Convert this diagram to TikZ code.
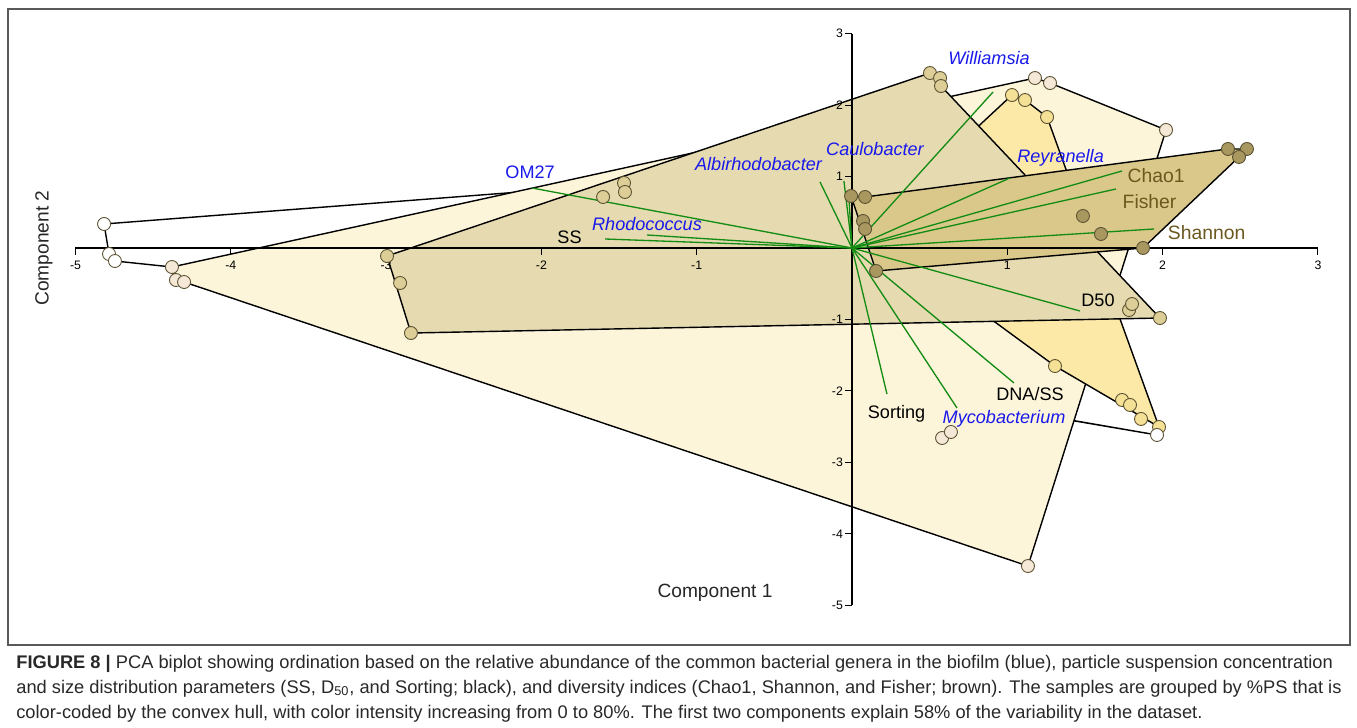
\documentclass[tikz,border=0pt]{standalone}
\usepackage{fontspec}
\setmainfont{Liberation Sans}
\usepackage{xcolor}
\usepackage{tikz}

\definecolor{hullwhite}{RGB}{255,255,255}
\definecolor{hullpale}{RGB}{253,245,218}
\definecolor{hullyellow}{RGB}{252,233,168}
\definecolor{hullbeige}{RGB}{229,218,176}
\definecolor{hullbrown}{RGB}{218,200,138}
\definecolor{ptwhite}{RGB}{255,255,255}
\definecolor{ptpale}{RGB}{245,232,214}
\definecolor{ptyellow}{RGB}{245,225,150}
\definecolor{ptbeige}{RGB}{220,206,150}
\definecolor{ptbrown}{RGB}{168,152,96}
\definecolor{ptedge}{RGB}{90,80,50}
\definecolor{vecgreen}{RGB}{20,140,20}
\definecolor{taxonblue}{RGB}{25,25,235}
\definecolor{divbrown}{RGB}{107,88,30}
\definecolor{captiongray}{RGB}{40,40,40}

\begin{document}
\begin{tikzpicture}
      \tikzstyle{frame_box}=[draw=black!65, line width=0.8pt]
      \tikzstyle{hull}=[draw=black, line width=0.8pt, line join=round]
      \tikzstyle{axis_line}=[draw=black, line width=0.6pt]
      \tikzstyle{sample}=[circle, draw=ptedge, line width=0.5pt, minimum size=2.6mm, inner sep=0pt]
      \tikzstyle{vector}=[draw=vecgreen, line width=0.75pt]
      \tikzstyle{taxon}=[text=taxonblue, font=\fontsize{10.3}{12}\selectfont\itshape, inner sep=0pt]
      \tikzstyle{env_var}=[text=black, font=\fontsize{10.3}{12}\selectfont, inner sep=0pt]
      \tikzstyle{div_index}=[text=divbrown, font=\fontsize{11}{13}\selectfont, inner sep=0pt]
      \tikzstyle{tick_label}=[font=\fontsize{7}{8}\selectfont, inner sep=1pt]
      \tikzstyle{axis_title}=[text=black!85, font=\fontsize{10.9}{13}\selectfont, inner sep=0pt]
      \tikzstyle{caption_line}=[anchor=base west, text=captiongray, font=\fontsize{10.4}{12}\selectfont, inner sep=0pt]

      \useasboundingbox (0,0) rectangle (27.14,-14.56);
      \draw[frame_box] (0.16,-0.18) rectangle (27.0,-12.9);

      \begin{scope}[shift={(17.04,-4.96)}, x=3.106cm, y=1.429cm]
        % convex hulls, 0% first
        \filldraw[hull, fill=hullwhite] (-4.816,0.336) -- (-1.468,0.896) -- (1.275,-2.358) -- (1.964,-2.617)
          -- (-4.379,-0.266) -- (-4.746,-0.182) -- (-4.784,-0.084) -- cycle;
        \filldraw[hull, fill=hullpale] (-4.379,-0.266) -- (1.178,2.379) -- (1.275,2.309) -- (2.022,1.652)
          -- (1.133,-4.451) -- (-4.301,-0.476) -- (-4.353,-0.448) -- cycle;
        \filldraw[hull, fill=hullyellow] (0.103,0.266) -- (1.030,2.141) -- (1.114,2.071) -- (1.256,1.833)
          -- (1.977,-2.505) -- (1.307,-1.652) -- cycle;
        \filldraw[hull, fill=hullbeige] (-2.994,-0.112) -- (0.502,2.449) -- (0.567,2.379) -- (0.573,2.267)
          -- (1.983,-0.980) -- (-2.840,-1.190) -- cycle;
        \filldraw[hull, fill=hullbrown] (-0.006,0.728) -- (0.084,0.714) -- (2.421,1.386) -- (2.543,1.386)
          -- (2.492,1.274) -- (1.874,0.0) -- (0.155,-0.322) -- cycle;

        % axes
        \draw[axis_line] (-5,0) -- (3,0);
        \foreach \x [count=\i] in {-5,-4,-3,-2,-1,1,2,3} {
          \draw[axis_line] (\x,0) -- (\x,-0.1);
          \node[tick_label] (xt\i) at (\x,-0.238) {\x};
        }
        \draw[axis_line] (0,3) -- (0,-5);
        \foreach \y [count=\i] in {3,2,1,-1,-2,-3,-4,-5} {
          \draw[axis_line] (0,\y) -- (-0.045,\y);
          \node[tick_label, anchor=east] (yt\i) at (-0.045,\y) {\y};
        }

        % loadings
        \coordinate (O) at (0,0);
        \coordinate (om27) at (-2.061,0.840);
        \coordinate (ss) at (-1.590,0.126);
        \coordinate (rhodo) at (-1.320,0.182);
        \coordinate (albi) at (-0.206,0.924);
        \coordinate (caulo) at (-0.052,0.938);
        \coordinate (other) at (-0.019,0.672);
        \coordinate (willi) at (0.908,2.183);
        \coordinate (reyra) at (1.017,0.980);
        \coordinate (chao) at (1.739,1.078);
        \coordinate (fisher) at (1.700,0.826);
        \coordinate (shannon) at (1.945,0.266);
        \coordinate (dfifty) at (1.468,-0.882);
        \coordinate (dnass) at (1.043,-1.889);
        \coordinate (myco) at (0.676,-2.239);
        \coordinate (sorting) at (0.225,-2.043);
        \foreach \v in {om27,ss,rhodo,albi,caulo,other,willi,reyra,chao,fisher,shannon,dfifty,dnass,myco,sorting}
          \draw[vector] (O) -- (\v);

        % samples
        \foreach \x/\y [count=\i] in {-4.379/-0.266, -4.353/-0.448, -4.301/-0.476, 1.178/2.379, 1.275/2.309,
            2.022/1.652, 1.133/-4.451, 0.580/-2.659, 0.637/-2.575}
          \node[sample, fill=ptpale] (p\i) at (\x,\y) {};
        \foreach \x/\y [count=\i] in {1.030/2.141, 1.114/2.071, 1.256/1.833, 1.307/-1.652, 1.739/-2.127,
            1.790/-2.197, 1.861/-2.393, 1.977/-2.505}
          \node[sample, fill=ptyellow] (yl\i) at (\x,\y) {};
        \foreach \x/\y [count=\i] in {-2.994/-0.112, -2.910/-0.490, -2.840/-1.190, -1.603/0.714, -1.468/0.910,
            -1.462/0.784, 0.502/2.449, 0.567/2.379, 0.573/2.267, 1.784/-0.868, 1.803/-0.784, 1.983/-0.980}
          \node[sample, fill=ptbeige] (b\i) at (\x,\y) {};
        \foreach \x/\y [count=\i] in {-0.006/0.728, 0.084/0.714, 0.071/0.378, 0.084/0.266, 0.155/-0.322,
            1.487/0.448, 1.603/0.196, 1.874/0.0, 2.421/1.386, 2.543/1.386, 2.492/1.274}
          \node[sample, fill=ptbrown] (br\i) at (\x,\y) {};
        \foreach \x/\y [count=\i] in {-4.816/0.336, -4.784/-0.084, -4.746/-0.182, 1.964/-2.617}
          \node[sample, fill=ptwhite] (w\i) at (\x,\y) {};

        % labels
        \node[taxon, font=\fontsize{10.3}{12}\selectfont] (lab_om27) at (-2.073,1.064) {OM27};
        \node[taxon] (lab_albi) at (-0.602,1.176) {Albirhodobacter};
        \node[taxon] (lab_caulo) at (0.148,1.386) {Caulobacter};
        \node[taxon] (lab_willi) at (0.882,2.659) {Williamsia};
        \node[taxon] (lab_reyra) at (1.343,1.260) {Reyranella};
        \node[taxon] (lab_rhodo) at (-1.320,0.336) {Rhodococcus};
        \node[taxon] (lab_myco) at (0.979,-2.395) {Mycobacterium};
        \node[env_var] (lab_ss) at (-1.819,0.154) {SS};
        \node[env_var] (lab_dfifty) at (1.584,-0.728) {D50};
        \node[env_var] (lab_dnass) at (1.146,-2.043) {DNA/SS};
        \node[env_var] (lab_sorting) at (0.287,-2.325) {Sorting};
        \node[div_index] (lab_chao) at (1.958,1.008) {Chao1};
        \node[div_index] (lab_fisher) at (1.916,0.644) {Fisher};
        \node[div_index] (lab_shannon) at (2.283,0.210) {Shannon};

        \node[axis_title] (comp1) at (-0.882,-4.829) {Component 1};
        \node[axis_title, rotate=90] (comp2) at (-5.203,0) {Component 2};
      \end{scope}

      % caption
      \node[caption_line] (cap1) at (0.32,-13.36) {\textbf{FIGURE 8 |} PCA biplot showing ordination based on the relative abundance of the common bacterial genera in the biofilm (blue), particle suspension concentration};
      \node[caption_line] (cap2) at (0.32,-13.86) {and size distribution parameters (SS, D\textsubscript{50}, and Sorting; black), and diversity indices (Chao1, Shannon, and Fisher; brown). The samples are grouped by \%PS that is};
      \node[caption_line] (cap3) at (0.32,-14.36) {color-coded by the convex hull, with color intensity increasing from 0 to 80\%. The first two components explain 58\% of the variability in the dataset.};
    \end{tikzpicture}
\end{document}
